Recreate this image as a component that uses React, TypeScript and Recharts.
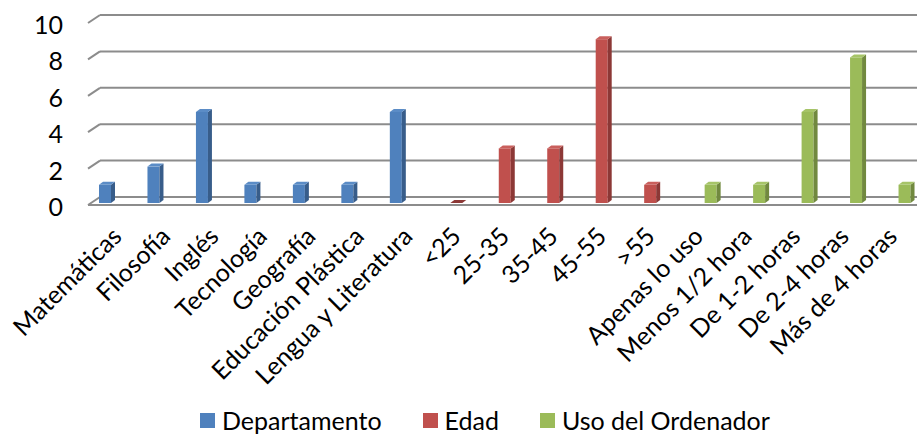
import React from 'react';
import { BarChart, Bar, XAxis, YAxis, CartesianGrid, Legend } from 'recharts';

const deptCategories = ['Matemáticas', 'Filosofía', 'Inglés', 'Tecnología', 'Geografía', 'Educación Plástica', 'Lengua y Literatura'];
const deptValues = [1, 2, 5, 1, 1, 1, 5];
const edadCategories = ['<25', '25-35', '35-45', '45-55', '>55'];
const edadValues = [0, 3, 3, 9, 1];
const usoCategories = ['Apenas lo uso', 'Menos 1/2 hora', 'De 1-2 horas', 'De 2-4 horas', 'Más de 4 horas'];
const usoValues = [1, 1, 5, 8, 1];
const yTicks = [0, 2, 4, 6, 8, 10];

const seriesNames = ['Departamento', 'Edad', 'Uso del Ordenador'];
const colors = ['#4F81BD', '#C0504D', '#9BBB59'];
const sideColors = ['#385D8A', '#8C3836', '#71893F'];
const topColors = ['#5B8CC6', '#C95F5C', '#A6C468'];

type Row = { name: string; dep?: number; edad?: number; uso?: number };
const data: Row[] = [
  ...deptCategories.map((name, i) => ({ name, dep: deptValues[i] })),
  ...edadCategories.map((name, i) => ({ name, edad: edadValues[i] })),
  ...usoCategories.map((name, i) => ({ name, uso: usoValues[i] })),
];

const FONT = 'Lato, "Open Sans", sans-serif';
const FS = 25;
const W = 917;
const H = 434;
const TOP = 21;
const PLOT_BOTTOM = 203;
const XAXIS_H = 150;
const LEGEND_H = 26;
const BOTTOM_MARGIN = H - PLOT_BOTTOM - XAXIS_H - LEGEND_H;

const makeShape = (idx: number) => (props: any) => {
  const { x, y, width, height } = props;
  if (x == null || y == null || width == null) return <g />;
  const h = Math.max(0, height || 0);
  const d = 4;
  const dy = 3;
  const right = x + width;
  const bottom = y + h;
  return (
    <g>
      {h > 0 && <rect x={x} y={y} width={width} height={h} fill={colors[idx]} />}
      {h > 0 && (
        <polygon
          points={`${right},${y} ${right + d},${y - dy} ${right + d},${bottom - dy} ${right},${bottom}`}
          fill={sideColors[idx]}
        />
      )}
      <polygon
        points={`${x},${y} ${x + d},${y - dy} ${right + d},${y - dy} ${right},${y}`}
        fill={h > 0 ? topColors[idx] : sideColors[idx]}
      />
    </g>
  );
};

const GridLine = (props: any) => {
  const { x1, y1, x2, index } = props;
  const back = y1 - 6;
  const isFloor = Math.abs(y1 - PLOT_BOTTOM) < 1;
  return (
    <g key={`g-${index}-${y1}`}>
      <line x1={x1 + 7} y1={back} x2={x2} y2={back} stroke="#8C8C8C" strokeWidth={2} />
      <line x1={x1 - 5} y1={y1 + 2} x2={x1 + 7} y2={back} stroke="#8C8C8C" strokeWidth={2} />
      {isFloor && <line x1={x1 - 5} y1={y1 + 2} x2={x2} y2={y1 + 2} stroke="#8C8C8C" strokeWidth={2} />}
    </g>
  );
};

const YTick = (props: any) => {
  const { y, payload } = props;
  return (
    <text x={63} y={y + 3} textAnchor="end" dominantBaseline="central" fontFamily={FONT} fontSize={FS} fill="#000">
      {payload.value}
    </text>
  );
};

const XTick = (props: any) => {
  const { x, y, payload } = props;
  const ax = x + 6;
  const ay = y + 27;
  return (
    <text
      x={ax}
      y={ay}
      transform={`rotate(-45 ${ax} ${ay})`}
      textAnchor="end"
      fontFamily={FONT}
      fontSize={FS}
      fill="#000"
    >
      {payload.value}
    </text>
  );
};

const LegendContent = () => (
  <div style={{ display: 'flex', justifyContent: 'flex-start', paddingLeft: 200, height: LEGEND_H, alignItems: 'center', fontFamily: FONT, fontSize: FS, color: '#000' }}>
    {seriesNames.map((s, i) => (
      <div key={s} style={{ display: 'flex', alignItems: 'center', marginRight: 41 }}>
        <div style={{ width: 15, height: 15, background: colors[i], marginRight: 7 }} />
        <span style={{ whiteSpace: 'nowrap' }}>{s}</span>
      </div>
    ))}
  </div>
);

export default function App() {
  return (
    <div style={{ position: 'absolute', left: 0, top: 0, width: W, height: H, overflow: 'hidden', background: '#fff' }}>
      <BarChart
        width={W}
        height={H}
        data={data}
        margin={{ top: TOP, right: 0, left: 0, bottom: BOTTOM_MARGIN }}
        barGap={0}
        barSize={12}
      >
        <CartesianGrid vertical={false} horizontal={GridLine as any} />
        <XAxis dataKey="name" interval={0} axisLine={false} tickLine={false} height={XAXIS_H} tick={XTick as any} />
        <YAxis domain={[0, 10]} ticks={yTicks} width={93} axisLine={false} tickLine={false} tick={YTick as any} />
        <Legend content={LegendContent as any} wrapperStyle={{ top: 407, left: 0, width: W, height: LEGEND_H }} />
        <Bar dataKey="dep" name={seriesNames[0]} fill={colors[0]} shape={makeShape(0)} isAnimationActive={false} />
        <Bar dataKey="edad" name={seriesNames[1]} fill={colors[1]} shape={makeShape(1)} isAnimationActive={false} />
        <Bar dataKey="uso" name={seriesNames[2]} fill={colors[2]} shape={makeShape(2)} isAnimationActive={false} />
      </BarChart>
    </div>
  );
}
